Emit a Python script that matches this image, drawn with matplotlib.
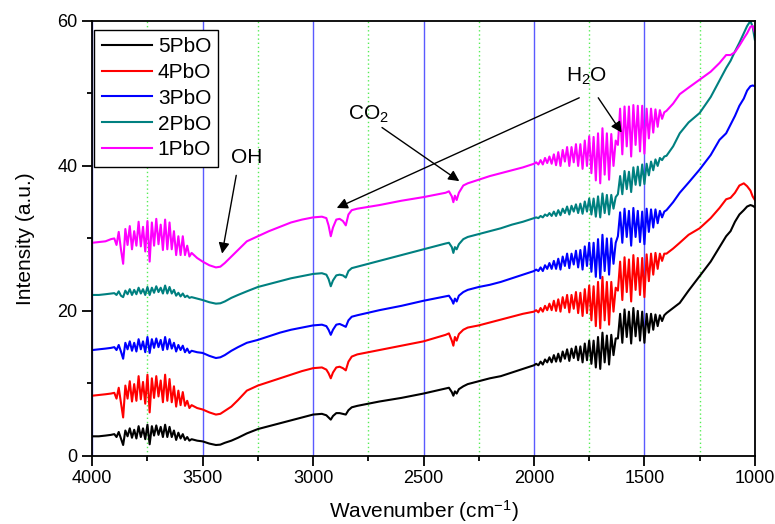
import matplotlib
matplotlib.use("Agg")
import matplotlib.pyplot as plt
from matplotlib.ticker import MultipleLocator

plt.rcParams['font.family'] = ['Liberation Sans', 'DejaVu Sans']
plt.rcParams['mathtext.fontset'] = 'custom'
plt.rcParams['mathtext.rm'] = 'Liberation Sans'
plt.rcParams['mathtext.it'] = 'Liberation Sans:italic'

# Wavenumber grid (cm-1), shared by all spectra
wavenumber = [
    4000, 3970, 3940, 3915,
    3900, 3890, 3880, 3870, 3860, 3850, 3840, 3830, 3820, 3810, 3800, 3790,
    3780, 3770, 3760, 3750, 3740, 3730, 3720, 3710, 3700, 3690, 3680, 3670,
    3660, 3650, 3640, 3630, 3620, 3610, 3600, 3590, 3580, 3570, 3560, 3550,
    3525, 3500, 3470, 3440, 3420, 3400, 3370, 3340, 3300, 3250, 3200, 3150,
    3100, 3050, 3000, 2960, 2940, 2930, 2920, 2910, 2895, 2880, 2865, 2852,
    2840, 2825, 2800, 2700, 2600, 2500, 2400, 2385, 2372, 2365, 2358, 2350,
    2340, 2320, 2300, 2250, 2200, 2150, 2100, 2050, 2000,
    1990, 1980, 1970, 1960, 1950, 1940, 1930, 1920, 1910, 1900, 1890, 1880,
    1870, 1860, 1850, 1840, 1830, 1820, 1810, 1800, 1790, 1780, 1770, 1760,
    1750, 1740, 1730, 1720, 1710, 1700, 1690, 1680, 1670, 1660, 1650, 1640,
    1630, 1620, 1610, 1600, 1590, 1580, 1570, 1560, 1550, 1540, 1530, 1520,
    1510, 1500, 1490, 1480, 1470, 1460, 1450, 1440, 1430, 1420, 1410,
    1400, 1370, 1340, 1300, 1250, 1200, 1160, 1130, 1110, 1090, 1070, 1050,
    1035, 1020, 1010, 1000,
]

pbo5 = [
    2.7, 2.7, 2.8, 2.9,
    3.0, 2.6, 3.3, 2.4, 1.5, 3.5, 2.7, 3.8, 2.5, 3.6, 2.4, 4.1, 2.6, 3.8, 2.3, 4.3,
    1.6, 4.1, 2.8, 4.2, 2.9, 4.0, 2.6, 4.3, 2.6, 4.0, 2.6, 3.5, 2.2, 3.2, 2.4, 3.0,
    2.2, 2.6, 2.1, 2.3,
    2.1, 2.0, 1.7, 1.5, 1.55, 1.8, 2.1, 2.5, 3.1, 3.7, 4.1, 4.5, 4.9, 5.3, 5.7,
    5.8, 5.6, 5.3, 5.0, 5.5, 5.9, 5.9, 5.8, 5.7, 6.3, 6.7, 6.9, 7.5, 8.0, 8.6,
    9.3, 9.4, 8.8, 8.3, 8.9, 8.6, 9.2, 9.6, 9.9, 10.3, 10.7, 11.0, 11.5, 12.0, 12.5,
    12.7, 12.5, 13.0, 12.6, 13.3, 12.9, 13.6, 12.9, 13.9, 13.0, 14.1, 13.0, 14.4,
    13.4, 14.7, 13.1, 14.8, 13.5, 15.1, 13.2, 15.1, 12.9, 15.5, 13.2, 15.9, 12.7,
    15.9, 12.2, 16.4, 12.0, 17.0, 12.9, 16.6, 12.6, 16.7, 13.9, 16.2, 16.2, 19.6,
    15.6, 20.2, 16.4, 19.9, 15.5, 20.4, 16.5, 20.0, 15.9, 19.9, 15.6, 19.6, 17.0,
    19.6, 17.4, 19.5, 17.9, 19.4, 18.6, 19.4,
    19.7, 20.4, 21.1, 22.8, 24.8, 26.8, 28.8, 30.3, 31.0, 32.3, 33.3, 33.9,
    34.4, 34.6, 34.5, 34.3,
]

pbo4 = [
    8.3, 8.4, 8.5, 8.6,
    8.7, 7.9, 9.4, 7.4, 5.3, 9.7, 7.9, 10.3, 7.5, 9.9, 7.6, 11.0, 7.8, 10.2, 7.2,
    11.2, 6.0, 10.7, 8.0, 11.0, 8.2, 10.4, 7.4, 11.2, 7.6, 10.6, 7.4, 9.6, 6.8,
    9.0, 7.0, 8.8, 6.9, 7.6, 6.6, 7.0,
    6.6, 6.4, 6.0, 5.7, 5.8, 6.2, 6.8, 7.7, 9.0, 9.7, 10.2, 10.7, 11.2, 11.7, 12.1,
    12.2, 11.9, 11.4, 10.7, 11.5, 12.2, 12.3, 12.1, 11.8, 13.0, 13.7, 14.0, 14.6,
    15.2, 15.8, 16.7, 16.9, 15.9, 15.2, 16.4, 15.9, 16.8, 17.4, 17.7, 18.0, 18.4,
    18.8, 19.2, 19.6, 19.9,
    20.1, 19.8, 20.4, 19.9, 20.7, 20.1, 21.0, 20.1, 21.4, 20.0, 21.6, 19.9, 21.9,
    20.4, 22.2, 19.8, 22.2, 20.3, 22.6, 19.7, 22.5, 19.3, 23.0, 19.7, 23.5, 18.7,
    23.4, 17.9, 24.0, 17.6, 24.7, 18.7, 24.0, 18.1, 24.0, 19.9, 23.2, 22.8, 26.8,
    21.5, 27.4, 22.6, 27.1, 21.3, 27.7, 22.9, 27.3, 22.2, 27.3, 21.9, 27.8, 24.1,
    27.9, 25.0, 28.0, 25.8, 27.9, 26.9, 27.9,
    27.9, 28.6, 29.4, 30.5, 31.4, 32.8, 34.2, 35.4, 35.6, 36.3, 37.3, 37.6,
    37.2, 36.6, 35.8, 35.3,
]

pbo3 = [
    14.6, 14.7, 14.8, 14.9,
    15.0, 14.6, 15.3, 14.4, 13.4, 15.6, 14.7, 15.8, 14.5, 15.6, 14.4, 16.1, 14.7,
    15.8, 14.3, 16.4, 14.2, 16.1, 14.9, 16.2, 15.0, 16.0, 14.6, 16.4, 14.7, 16.1,
    14.8, 15.6, 14.4, 15.3, 14.6, 15.2, 14.3, 14.8, 14.2, 14.5,
    14.3, 14.2, 13.8, 13.5, 13.6, 13.9, 14.5, 15.0, 15.6, 16.0, 16.5, 17.0, 17.4,
    17.7, 18.0, 18.1, 17.9, 17.4, 16.7, 17.4, 18.1, 18.2, 18.0, 17.8, 18.7, 19.2,
    19.4, 20.1, 20.7, 21.4, 22.0, 22.1, 21.5, 21.0, 21.7, 21.3, 22.1, 22.6, 22.9,
    23.3, 23.6, 24.0, 24.5, 25.0, 25.5,
    25.7, 25.5, 26.0, 25.5, 26.3, 25.8, 26.6, 25.8, 26.9, 25.8, 27.2, 25.7, 27.5,
    26.2, 27.9, 25.9, 27.9, 26.4, 28.3, 26.0, 28.4, 25.7, 28.9, 26.2, 29.4, 25.4,
    29.4, 24.7, 29.9, 24.5, 30.5, 25.5, 30.0, 25.0, 30.0, 26.5, 29.4, 30.3, 33.6,
    29.4, 34.1, 30.2, 33.8, 29.0, 34.2, 30.2, 33.8, 29.5, 33.7, 29.2, 34.1, 30.9,
    34.0, 31.5, 34.0, 32.1, 33.8, 32.9, 33.7,
    33.9, 35.0, 36.3, 37.7, 39.5, 41.5, 43.6, 44.5, 45.7, 46.9, 48.3, 49.3,
    50.4, 51.0, 51.1, 51.0,
]

pbo2 = [
    22.2, 22.2, 22.3, 22.4,
    22.45, 22.2, 22.7, 22.1, 21.9, 22.8, 22.3, 23.0, 22.2, 22.9, 22.3, 23.2, 22.4,
    23.0, 22.2, 23.3, 22.2, 23.2, 22.5, 23.4, 22.6, 23.2, 22.4, 23.5, 22.4, 23.3,
    22.4, 22.9, 22.1, 22.5, 22.0, 22.4, 21.9, 22.1, 21.8, 21.9,
    21.7, 21.5, 21.2, 21.0, 21.05, 21.3, 21.8, 22.2, 22.7, 23.3, 23.7, 24.1, 24.5,
    24.8, 25.1, 25.2, 25.0, 24.4, 23.4, 24.2, 24.9, 25.0, 24.9, 24.6, 25.5, 25.9,
    26.1, 26.9, 27.7, 28.5, 29.3, 29.4, 28.8, 28.0, 28.8, 28.5, 29.2, 29.9, 30.2,
    30.6, 31.0, 31.4, 31.9, 32.3, 32.8,
    32.9, 32.8, 33.1, 32.9, 33.3, 33.1, 33.5, 33.1, 33.7, 33.1, 33.9, 33.2, 34.1,
    33.5, 34.4, 33.3, 34.5, 33.7, 34.7, 33.5, 34.8, 33.4, 35.1, 33.7, 35.5, 33.3,
    35.5, 33.0, 35.8, 32.9, 36.2, 33.5, 36.0, 33.3, 36.0, 34.1, 35.7, 36.1, 38.6,
    36.1, 39.3, 36.8, 39.2, 36.4, 39.8, 37.4, 39.9, 37.3, 40.2, 37.5, 40.3, 38.7,
    40.6, 39.4, 40.9, 40.0, 41.1, 40.8, 41.3,
    41.4, 42.7, 44.5, 46.0, 47.3, 49.5, 51.8, 53.5, 54.5, 55.8, 57.0, 58.3,
    59.3, 60.0, 59.2, 57.4,
]

pbo1 = [
    29.4, 29.5, 29.6, 29.9,
    30.0, 29.1, 30.9, 28.5, 26.5, 31.3, 29.1, 31.7, 28.5, 31.0, 29.0, 32.3, 28.9,
    31.6, 28.2, 32.4, 26.8, 32.2, 29.0, 32.7, 29.2, 31.9, 28.4, 32.6, 28.5, 32.2,
    28.5, 31.0, 27.7, 30.3, 27.7, 30.3, 27.7, 29.0, 27.5, 28.0,
    27.3, 26.8, 26.3, 26.0, 26.1, 26.6, 27.5, 28.4, 29.6, 30.3, 31.0, 31.6, 32.2,
    32.6, 32.9, 33.0, 32.8, 31.8, 30.3, 31.5, 32.6, 32.7, 32.4, 31.8, 33.3, 33.9,
    34.1, 34.6, 35.2, 35.7, 36.3, 36.5, 35.8, 35.0, 35.9, 35.3, 36.3, 37.3, 37.6,
    38.1, 38.6, 39.0, 39.4, 39.8, 40.3,
    40.5, 40.2, 40.8, 40.2, 41.1, 40.4, 41.3, 40.3, 41.6, 40.1, 41.9, 40.0, 42.2,
    40.6, 42.6, 40.0, 42.6, 40.5, 43.0, 40.0, 43.0, 39.6, 43.5, 40.0, 44.1, 39.0,
    44.0, 38.0, 44.5, 37.6, 45.2, 38.8, 44.5, 38.1, 44.4, 40.0, 43.5, 42.9, 47.9,
    41.6, 48.2, 42.7, 48.2, 41.3, 48.4, 42.9, 48.3, 42.0, 48.3, 41.7, 47.9, 43.8,
    47.9, 44.6, 47.8, 45.4, 47.7, 46.5, 47.4,
    47.6, 48.6, 49.9, 50.8, 51.9, 53.0, 54.2, 55.3, 55.3, 55.7, 56.6, 57.6,
    58.3, 59.2, 59.3, 58.4,
]

labels = ['5PbO', '4PbO', '3PbO', '2PbO', '1PbO']
series = [pbo5, pbo4, pbo3, pbo2, pbo1]
colors = ['#000000', '#ff0000', '#0000ff', '#008080', '#ff00ff']

fig = plt.figure(figsize=(7.75, 5.24), dpi=100)
ax = fig.add_axes([0.119, 0.130, 0.855, 0.830])

for y, lab, col in zip(series, labels, colors):
    ax.plot(wavenumber, y, color=col, lw=1.5, label=lab)

ax.set_xlim(4000, 1000)
ax.set_ylim(0, 60)
ax.xaxis.set_major_locator(MultipleLocator(500))
ax.xaxis.set_minor_locator(MultipleLocator(250))
ax.yaxis.set_major_locator(MultipleLocator(20))
ax.yaxis.set_minor_locator(MultipleLocator(10))

# vertical grid: solid blue at major ticks, dotted green at minor ticks
ax.set_axisbelow(True)
ax.grid(which='major', axis='x', color='#5a5aff', lw=1.0, ls='-')
ax.grid(which='minor', axis='x', color='#55ee55', lw=1.0, ls=(0, (1, 2)))

ax.tick_params(which='major', direction='out', length=7, width=1.3, labelsize=13)
ax.tick_params(which='minor', direction='out', length=3.5, width=1.3)
for sp in ax.spines.values():
    sp.set_linewidth(1.3)

ax.set_xlabel('Wavenumber (cm$^{-1}$)', fontsize=15, labelpad=8)
ax.set_ylabel('Intensity (a.u.)', fontsize=15, labelpad=16)

leg = ax.legend(loc='upper left', bbox_to_anchor=(0.003, 0.98), fontsize=15,
                handlelength=2.4, handletextpad=0.3, labelspacing=0.33,
                borderpad=0.35, borderaxespad=0.0, fancybox=False, framealpha=1)
leg.get_frame().set_edgecolor('black')
leg.get_frame().set_linewidth(1.0)

arrow = dict(arrowstyle='-|>', color='black', lw=1.0, mutation_scale=16, shrinkA=0, shrinkB=0)
ax.text(3300, 41.2, 'OH', fontsize=15, ha='center', va='center')
ax.annotate('', xy=(3412, 27.9), xytext=(3348, 38.7), arrowprops=arrow)

ax.text(2751, 47.1, 'CO$_2$', fontsize=15, ha='center', va='center')
ax.annotate('', xy=(2338, 37.9), xytext=(2688, 45.3), arrowprops=arrow)

ax.text(1760, 52.3, 'H$_2$O', fontsize=15, ha='center', va='center')
ax.annotate('', xy=(2893, 34.2), xytext=(1795, 49.4), arrowprops=arrow)
ax.annotate('', xy=(1603, 44.6), xytext=(1709, 49.4), arrowprops=arrow)

fig.savefig('out.png', dpi=100)
